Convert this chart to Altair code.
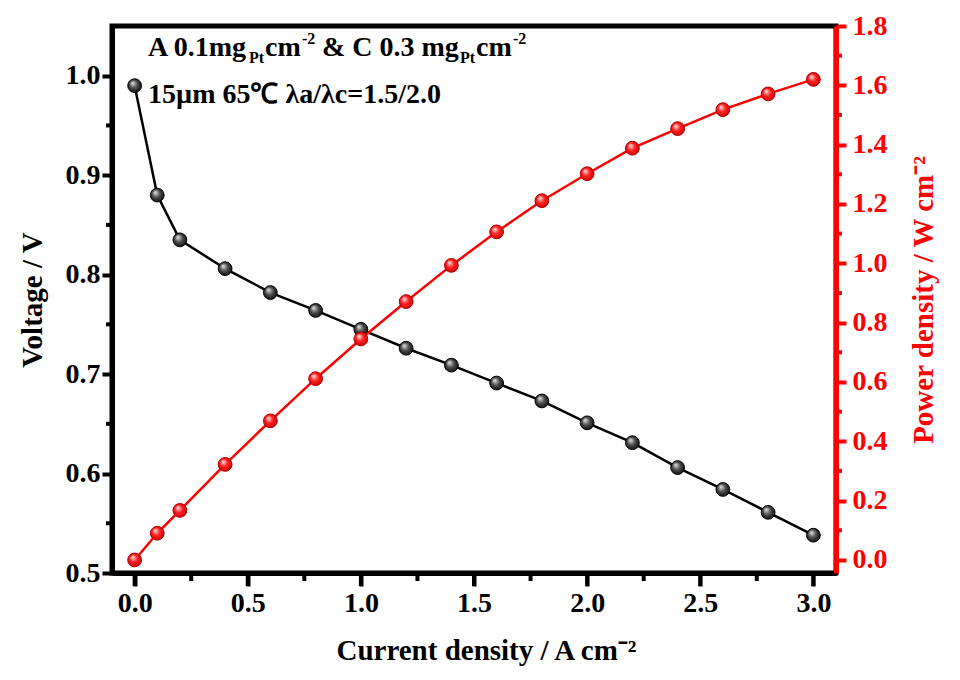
import altair as alt
import pandas as pd

# ---- data ----
current = [0.0, 0.1, 0.2, 0.4, 0.6, 0.8, 1.0, 1.2, 1.4, 1.6, 1.8, 2.0, 2.2, 2.4, 2.6, 2.8, 3.0]
voltage = [0.990, 0.880, 0.835, 0.806, 0.782, 0.764, 0.745, 0.726, 0.709, 0.691, 0.673,
           0.651, 0.631, 0.606, 0.584, 0.561, 0.538]
power = [0.000, 0.090, 0.167, 0.322, 0.469, 0.611, 0.745, 0.871, 0.993, 1.106, 1.211,
         1.302, 1.388, 1.454, 1.518, 1.571, 1.620]

x_major = [0.0, 0.5, 1.0, 1.5, 2.0, 2.5, 3.0]
x_minor = [0.25, 0.75, 1.25, 1.75, 2.25, 2.75]
v_major = [0.5, 0.6, 0.7, 0.8, 0.9, 1.0]
v_minor = [0.55, 0.65, 0.75, 0.85, 0.95]
p_major = [0.0, 0.2, 0.4, 0.6, 0.8, 1.0, 1.2, 1.4, 1.6, 1.8]
p_minor = [0.1, 0.3, 0.5, 0.7, 0.9, 1.1, 1.3, 1.5, 1.7]

df = pd.DataFrame({"current": current, "voltage": voltage, "power": power})

FONT = "Liberation Serif"
RED = "#ff0000"
W, H = 724, 547
X_DOM, V_DOM, P_DOM = [-0.1, 3.1], [0.5, 1.05], [-0.044, 1.8]

x_scale = alt.Scale(domain=X_DOM, nice=False, zero=False)
v_scale = alt.Scale(domain=V_DOM, nice=False, zero=False)
p_scale = alt.Scale(domain=P_DOM, nice=False, zero=False)

x_enc = alt.X(
    "current:Q", scale=x_scale,
    axis=alt.Axis(
        values=x_major, format=".1f", ticks=True, tickSize=13, tickWidth=4,
        tickColor="black", zindex=2,
        title="Current density / A cm⁻²", titleX=374, titleY=86,
        titleBaseline="alphabetic", titleAlign="center",
        labelPadding=3, grid=False,
    ),
)

black_ball = alt.RadialGradient(
    gradient="radial", x1=0.35, y1=0.3, r1=0.02, x2=0.5, y2=0.5, r2=0.6,
    stops=[alt.GradientStop(color="#e0e0e0", offset=0),
           alt.GradientStop(color="#505050", offset=0.45),
           alt.GradientStop(color="#000000", offset=1)],
)
red_ball = alt.RadialGradient(
    gradient="radial", x1=0.35, y1=0.3, r1=0.02, x2=0.5, y2=0.5, r2=0.6,
    stops=[alt.GradientStop(color="#ffe0e0", offset=0),
           alt.GradientStop(color="#ff2020", offset=0.45),
           alt.GradientStop(color="#c00000", offset=1)],
)

y_v = alt.Y(
    "voltage:Q", scale=v_scale,
    axis=alt.Axis(
        orient="left", values=v_major, format=".1f", ticks=True, tickSize=10, tickWidth=4,
        tickColor="black", zindex=2,
        title="Voltage / V", titleX=-80, titleY=H / 2, titleAngle=270,
        titleBaseline="middle", titleAlign="center", labelPadding=2, grid=False,
    ),
)
y_p = alt.Y(
    "power:Q", scale=p_scale,
    axis=alt.Axis(
        orient="right", values=p_major, format=".1f", ticks=True, tickSize=10, tickWidth=4,
        tickColor=RED, zindex=2,
        title="Power density / W cm⁻²", titleX=87, titleY=H / 2, titleAngle=270,
        titleBaseline="middle", titleAlign="center", labelPadding=6, grid=False,
        domainColor=RED, labelColor=RED, titleColor=RED,
    ),
)

base = alt.Chart(df)
v_line = base.mark_line(color="black", strokeWidth=2.5).encode(x=x_enc, y=y_v)
v_pts = base.mark_point(filled=True, shape="circle", size=190, fill=black_ball,
                        stroke="#000000", strokeWidth=1, opacity=1).encode(x=x_enc, y=y_v)

p_line = base.mark_line(color=RED, strokeWidth=2.5).encode(x=x_enc, y=y_p)
p_pts = base.mark_point(filled=True, shape="circle", size=190, fill=red_ball,
                        stroke="#b00000", strokeWidth=1, opacity=1).encode(x=x_enc, y=y_p)

# ---- tick marks as small rects, positioned through the scales (outward) ----
TW = 2.0  # half tick thickness in pixels
hx = TW * (X_DOM[1] - X_DOM[0]) / W
hv = TW * (V_DOM[1] - V_DOM[0]) / H
hp = TW * (P_DOM[1] - P_DOM[0]) / H


def xticks(vals, length):
    return (alt.Chart(pd.DataFrame({"t": vals}))
            .transform_calculate(lo=f"datum.t - {hx}", hi=f"datum.t + {hx}")
            .mark_rect(color="black", clip=False)
            .encode(x=alt.X("lo:Q", scale=x_scale), x2="hi:Q",
                    y=alt.value(H), y2=alt.value(H + length)))


def vticks(vals, length):
    return (alt.Chart(pd.DataFrame({"t": vals}))
            .transform_calculate(lo=f"datum.t - {hv}", hi=f"datum.t + {hv}")
            .mark_rect(color="black", clip=False)
            .encode(y=alt.Y("lo:Q", scale=v_scale), y2="hi:Q",
                    x=alt.value(-length), x2=alt.value(0)))


def pticks(vals, length):
    return (alt.Chart(pd.DataFrame({"t": vals}))
            .transform_calculate(lo=f"datum.t - {hp}", hi=f"datum.t + {hp}")
            .mark_rect(color=RED, clip=False)
            .encode(y=alt.Y("lo:Q", scale=p_scale), y2="hi:Q",
                    x=alt.value(W), x2=alt.value(W + length)))


# ---- annotation (segments for sub/superscripts) ----
one = alt.Data(values=[{"a": 1}])
F, S = 28, 16
segments = [
    ("A 0.1mg", 36, 30, F),
    ("Pt", 137, 37, S),
    ("cm", 153, 30, F),
    ("-2", 190, 18, S),
    ("& C 0.3 mg", 210, 30, F),
    ("Pt", 348, 37, S),
    ("cm", 364, 30, F),
    ("-2", 401, 18, S),
    ("15µm 65℃ λa/λc=1.5/2.0", 36, 77, F),
]
texts = [
    alt.Chart(one).mark_text(text=t, font=FONT, fontWeight="bold", fontSize=fs,
                             align="left", baseline="alphabetic", color="black")
    .encode(x=alt.value(xx), y=alt.value(yy))
    for t, xx, yy, fs in segments
]

left = alt.layer(xticks(x_major, 13), xticks(x_minor, 8), vticks(v_minor, 6),
                 v_line, v_pts, *texts)
right = alt.layer(pticks(p_minor, 6), p_line, p_pts)

chart = (
    alt.layer(left, right)
    .resolve_scale(y="independent")
    .properties(
        width=W, height=H,
        autosize=alt.AutoSizeParams(type="none"),
        padding={"left": 104, "top": 18, "right": 116, "bottom": 99},
    )
    .configure_view(stroke="black", strokeWidth=5)
    .configure_axis(
        domainColor="black", domainWidth=5,
        labelFont=FONT, labelFontWeight="bold", labelFontSize=28, labelColor="black",
        titleFont=FONT, titleFontWeight="bold", titleFontSize=29, titleColor="black",
        labelOverlap=False, labelFlush=False,
    )
)

chart.save("out.html", embed_options={"renderer": "svg", "actions": False})
